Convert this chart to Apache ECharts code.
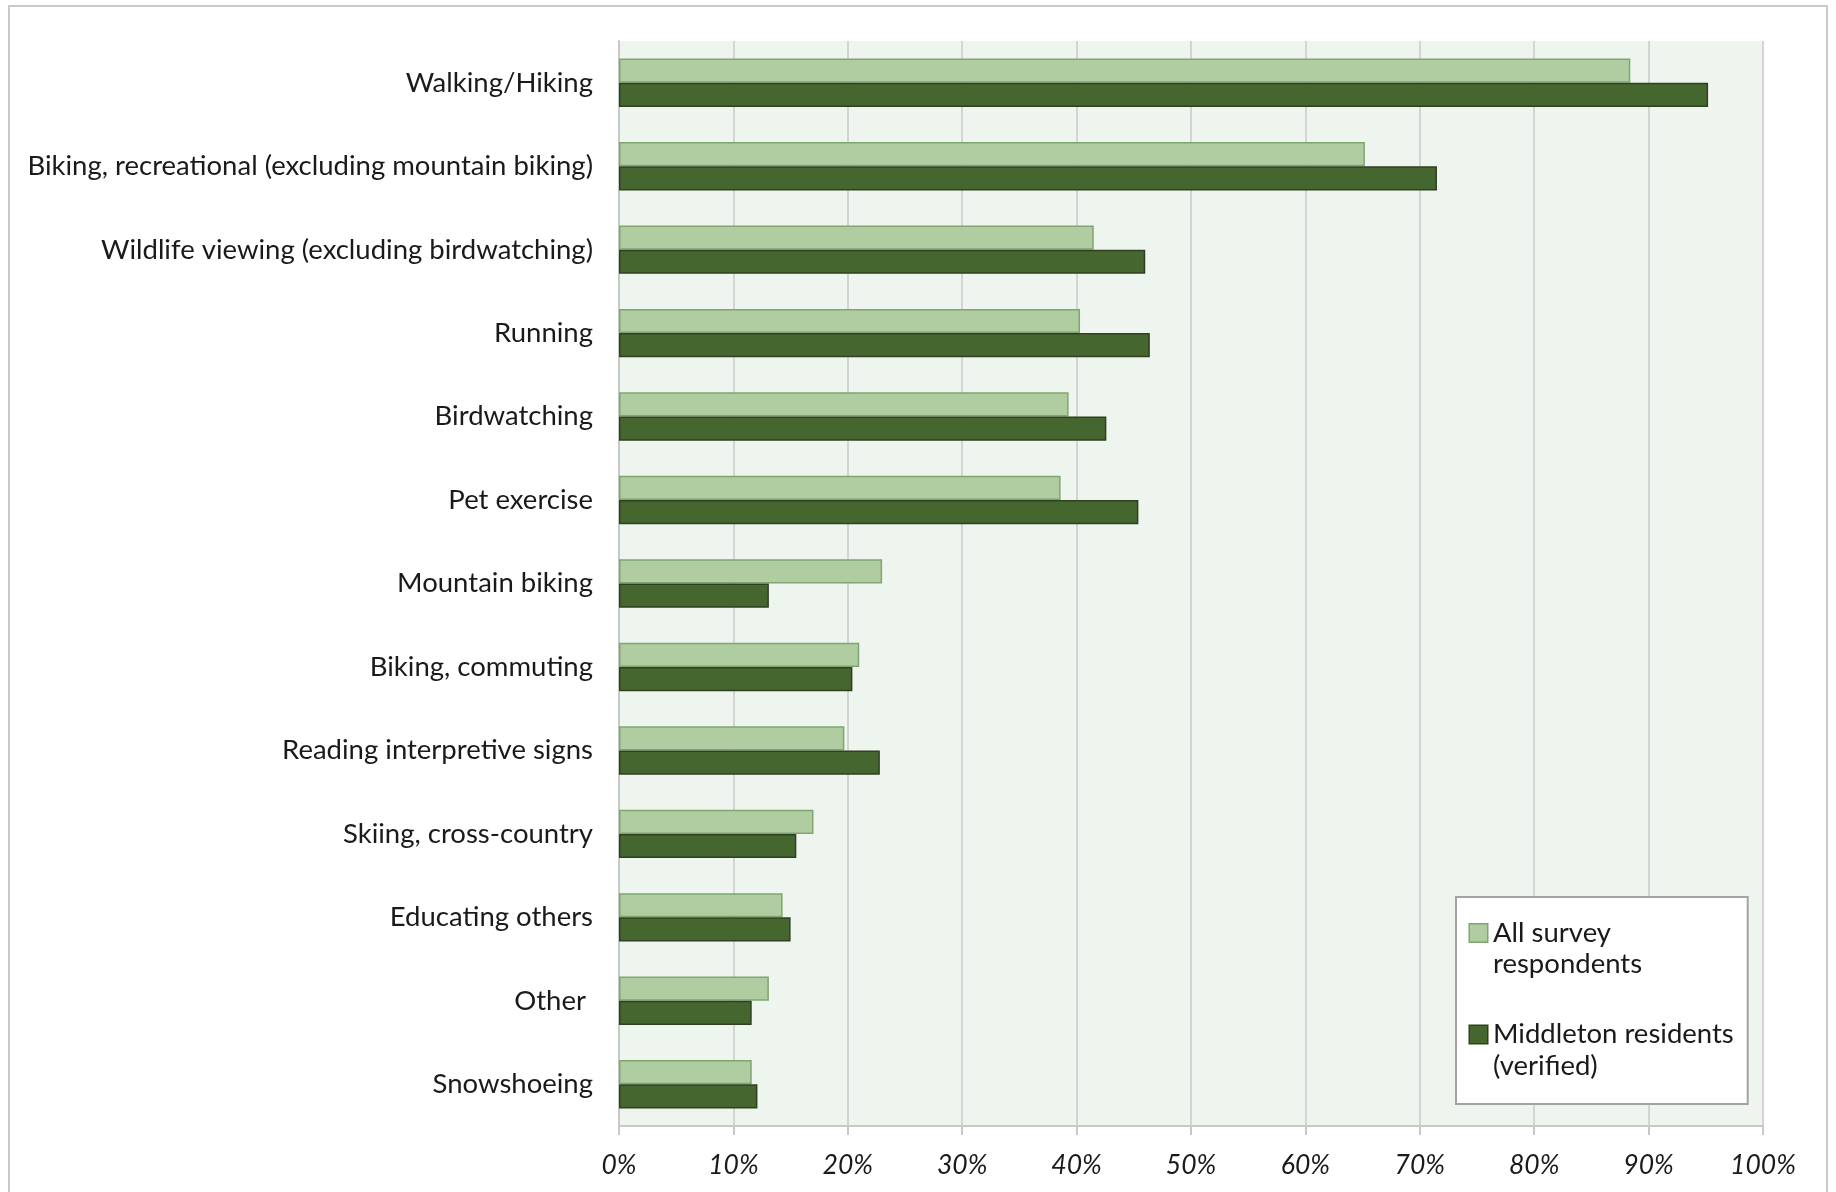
<!DOCTYPE html>
<html>
<head>
<meta charset="utf-8">
<script src="https://cdn.jsdelivr.net/npm/echarts@6/dist/echarts.min.js"></script>
<style>
  html, body { margin: 0; padding: 0; background: #fff; overflow: hidden; }
  #frame {
    position: absolute; left: 8px; top: 5px; width: 1820px; height: 1220px;
    border: 2px solid #c9c9c9; box-sizing: border-box;
  }
  #main { position: absolute; left: 0; top: 0; width: 1836px; height: 1192px; }
</style>
</head>
<body>
<div id="frame"></div>
<div id="main"></div>
<script>
  // activities, top to bottom
  const activities = [
    "Walking/Hiking",
    "Biking, recreational (excluding mountain biking)",
    "Wildlife viewing (excluding birdwatching)",
    "Running",
    "Birdwatching",
    "Pet exercise",
    "Mountain biking",
    "Biking, commuting",
    "Reading interpretive signs",
    "Skiing, cross-country",
    "Educating others",
    "Other ",
    "Snowshoeing",
  ];
  // percent of respondents
  const allRespondents = [88.4, 65.2, 41.5, 40.3, 39.3, 38.6, 23.0, 21.0, 19.7, 17.0, 14.3, 13.1, 11.6];
  const middletonResidents = [95.2, 71.5, 46.0, 46.4, 42.6, 45.4, 13.1, 20.4, 22.8, 15.5, 15.0, 11.6, 12.1];
  const xTicks = [0, 10, 20, 30, 40, 50, 60, 70, 80, 90, 100];

  const seriesNames = ["All survey respondents", "Middleton residents (verified)"];
  const legendLines = [["All survey", "respondents"], ["Middleton residents", "(verified)"]];

  const font = "Lato";
  const lightGreen = "#AFCDA0";
  const darkGreen = "#466630";

  var myChart = echarts.init(document.getElementById("main"), null, { renderer: "canvas" });

  let option = {
    animation: false,
    textStyle: { fontFamily: font },
    grid: {
      left: 619,
      right: 73,
      top: 41,
      bottom: 66,
      show: true,
      backgroundColor: "#EEF5EE",
      borderWidth: 0,
    },
    legend: {
      orient: "vertical",
      left: 1456,
      top: 897,
      backgroundColor: "#fff",
      borderColor: "#A3A3A3",
      borderWidth: 2,
      borderRadius: 0,
      padding: [22, 14, 24, 9],
      itemGap: 42,
      itemWidth: 0,
      itemHeight: 0,
      icon: "none",
      data: seriesNames,
      formatter: function (name) {
        let i = seriesNames.indexOf(name);
        let sq = i === 0 ? "{a|}" : "{b|}";
        return sq + "{g|}{t|" + legendLines[i][0] + "}\n{s|}{t|" + legendLines[i][1] + "}";
      },
      textStyle: {
        rich: {
          a: { width: 17, height: 17, backgroundColor: lightGreen, borderColor: "#7FA66F", borderWidth: 1.5 },
          b: { width: 17, height: 17, backgroundColor: darkGreen, borderColor: "#2F4022", borderWidth: 1.5 },
          g: { width: 6 },
          s: { width: 23 },
          t: { fontSize: 27.5, lineHeight: 31.5, color: "#1a1a1a", fontFamily: font },
        },
      },
    },
    xAxis: {
      type: "value",
      min: xTicks[0],
      max: xTicks[xTicks.length - 1],
      interval: 10,
      axisLine: { show: true, lineStyle: { color: "#C8C8C8", width: 2 } },
      axisTick: { show: true, length: 9, lineStyle: { color: "#C8C8C8", width: 2 } },
      splitLine: { show: true, lineStyle: { color: "#D4D4D4", width: 2 } },
      axisLabel: {
        formatter: "{value}%",
        fontSize: 26.5,
        fontStyle: "italic",
        color: "#1a1a1a",
        margin: 26,
        fontFamily: font,
      },
    },
    yAxis: {
      type: "category",
      inverse: true,
      data: activities,
      axisLine: { show: true, lineStyle: { color: "#C8C8C8", width: 2 } },
      axisTick: { show: false },
      splitLine: { show: false },
      axisLabel: {
        fontSize: 27.5,
        color: "#1a1a1a",
        margin: 26,
        padding: [5, 0, 0, 0],
        fontFamily: font,
      },
    },
    series: [
      {
        name: seriesNames[0],
        type: "bar",
        data: allRespondents,
        barGap: "0%",
        barCategoryGap: "42%",
        itemStyle: { color: lightGreen, borderColor: "#7FA66F", borderWidth: 1.5 },
      },
      {
        name: seriesNames[1],
        type: "bar",
        data: middletonResidents,
        barGap: "0%",
        barCategoryGap: "42%",
        itemStyle: { color: darkGreen, borderColor: "#2F4022", borderWidth: 1.5 },
      },
    ],
  };
  myChart.setOption(option);
</script>
</body>
</html>
